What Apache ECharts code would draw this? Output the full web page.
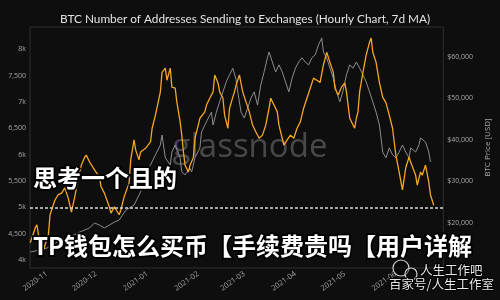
<!DOCTYPE html>
<html>
<head>
<meta charset="utf-8">
<script src="https://cdn.jsdelivr.net/npm/echarts@6/dist/echarts.min.js"></script>
<style>
html,body{margin:0;padding:0;background:#0e0e0e;}
#chart{width:500px;height:300px;}
</style>
</head>
<body>
<div id="chart"></div>
<script>
// ---- data ----
const titleText = 'BTC Number of Addresses Sending to Exchanges (Hourly Chart, 7d MA)';

const addrDates = ['2020-10-22','2020-10-25','2020-10-26','2020-10-28','2020-10-30','2020-11-02','2020-11-03','2020-11-06','2020-11-08','2020-11-10',
'2020-11-12','2020-11-14','2020-11-16','2020-11-18','2020-11-20','2020-11-22','2020-11-24','2020-11-25','2020-11-27','2020-11-30',
'2020-12-03','2020-12-04','2020-12-06','2020-12-09','2020-12-10','2020-12-12','2020-12-15','2020-12-16','2020-12-18','2020-12-21',
'2020-12-22','2020-12-24','2020-12-25','2020-12-27','2020-12-28','2020-12-31','2021-01-03','2021-01-04','2021-01-06','2021-01-09',
'2021-01-10','2021-01-12','2021-01-13','2021-01-15','2021-01-16','2021-01-18','2021-01-19','2021-01-21','2021-01-22','2021-01-23',
'2021-01-24','2021-01-26','2021-01-27','2021-01-29','2021-01-30','2021-02-01','2021-02-02','2021-02-05','2021-02-06','2021-02-08',
'2021-02-10','2021-02-11','2021-02-13','2021-02-14','2021-02-16','2021-02-17','2021-02-19','2021-02-20','2021-02-22','2021-02-23',
'2021-02-24','2021-02-26','2021-02-28','2021-03-02','2021-03-04','2021-03-06','2021-03-08','2021-03-10','2021-03-12','2021-03-14',
'2021-03-16','2021-03-17','2021-03-19','2021-03-21','2021-03-22','2021-03-24','2021-03-25','2021-03-27','2021-03-29','2021-03-31',
'2021-04-02','2021-04-04','2021-04-06','2021-04-08','2021-04-10','2021-04-12','2021-04-14','2021-04-16','2021-04-18','2021-04-20',
'2021-04-22','2021-04-24','2021-04-25','2021-04-27','2021-04-29','2021-05-01','2021-05-02','2021-05-03','2021-05-04','2021-05-06',
'2021-05-07','2021-05-08','2021-05-09','2021-05-10','2021-05-12','2021-05-14','2021-05-16','2021-05-17','2021-05-18','2021-05-20',
'2021-05-22','2021-05-24','2021-05-26','2021-05-28','2021-05-30','2021-05-31','2021-06-01','2021-06-03','2021-06-05','2021-06-07',
'2021-06-09','2021-06-10','2021-06-13','2021-06-14','2021-06-16','2021-06-17','2021-06-19','2021-06-21','2021-06-22','2021-06-24'];

const addrValues = [4330,4610,4670,4290,4190,4480,4860,5140,5240,5270,
5370,5180,4910,5200,5520,5800,5950,5990,5860,5710,
5580,5390,5270,5010,4890,5010,4860,4950,5200,5460,
5900,6280,6090,5900,6050,6120,6240,6500,6750,7190,
7560,7640,7410,7640,7280,7260,7000,6620,6370,6050,
5800,5670,5800,5940,6310,6560,6690,6810,6940,7070,
7190,7510,7360,7190,7070,6750,6500,6880,7090,7190,
7320,7510,7190,7000,6810,6560,6430,6310,6370,6560,
6880,7070,6940,6810,6560,6310,6180,6280,6370,6310,
6500,6620,6880,7070,7260,7450,7410,7370,7700,7940,
7750,7560,7260,7130,7280,7360,7190,6940,6690,6560,
6500,6690,6810,7190,7560,7890,8130,8210,7940,7750,
7370,7090,6980,6750,6500,6240,5990,5670,5330,5750,
5950,5860,5610,5420,5670,5610,5800,5480,5240,5040];

const priceDates = ['2020-10-22','2020-10-28','2020-11-03','2020-11-09','2020-11-15','2020-11-21','2020-11-27','2020-11-30','2020-12-03','2020-12-06',
'2020-12-09','2020-12-12','2020-12-15','2020-12-19','2020-12-24','2020-12-25','2020-12-28','2020-12-30','2020-12-31','2021-01-03',
'2021-01-06','2021-01-09','2021-01-10','2021-01-12','2021-01-15','2021-01-16','2021-01-18','2021-01-21','2021-01-22','2021-01-24',
'2021-01-27','2021-01-28','2021-01-30','2021-02-02','2021-02-03','2021-02-05','2021-02-08','2021-02-09','2021-02-10','2021-02-12',
'2021-02-14','2021-02-16','2021-02-18','2021-02-20','2021-02-22','2021-02-24','2021-02-25','2021-02-27','2021-03-01','2021-03-03',
'2021-03-05','2021-03-07','2021-03-09','2021-03-11','2021-03-13','2021-03-15','2021-03-16','2021-03-18','2021-03-20','2021-03-22',
'2021-03-24','2021-03-26','2021-03-28','2021-03-30','2021-04-01','2021-04-03','2021-04-05','2021-04-07','2021-04-09','2021-04-11',
'2021-04-13','2021-04-15','2021-04-17','2021-04-18','2021-04-20','2021-04-22','2021-04-24','2021-04-26','2021-04-28','2021-04-30',
'2021-05-02','2021-05-04','2021-05-06','2021-05-08','2021-05-10','2021-05-12','2021-05-14','2021-05-16','2021-05-18','2021-05-20',
'2021-05-22','2021-05-23','2021-05-24','2021-05-26','2021-05-28','2021-05-30','2021-06-01','2021-06-03','2021-06-05','2021-06-07',
'2021-06-09','2021-06-10','2021-06-13','2021-06-15','2021-06-16','2021-06-19','2021-06-21','2021-06-22'];

const priceValues = [13000,13500,14200,15900,16600,17800,18800,20000,19500,18800,
19500,20200,20700,23100,24300,25100,27500,29900,32300,34000,
36400,38800,41200,35700,34000,37100,38800,35700,32300,31600,
33200,32300,35700,38100,41900,43600,46000,46700,43600,46700,
49200,51600,54000,55700,57300,54500,51600,46700,45300,47700,
50100,51600,48400,53300,56400,59800,61200,58800,56400,58100,
56400,54000,51600,54900,57300,58800,59800,58800,58100,59800,
60500,62900,64600,61200,59800,57300,54900,51600,49200,52000,
55700,58100,57300,58800,57300,55700,54000,51600,49200,46700,
43600,40500,37100,35700,38100,36400,35700,37100,38800,37100,
35700,38100,37100,38800,40500,39500,37100,34700];

const leftTickValues = [4000,4500,5000,5500,6000,6500,7000,7500,8000];
const leftTickLabels = ['4k','4,500','5k','5,500','6k','6,500','7k','7,500','8k'];
const rightTickValues = [20000,30000,40000,50000,60000];
const rightTickLabels = ['$20,000','$30,000','$40,000','$50,000','$60,000'];
const monthTicks = ['2020-11-01','2020-12-01','2021-01-01','2021-02-01','2021-03-01','2021-04-01','2021-05-01','2021-06-01'];
const monthLabels = ['2020-11','2020-12','2021-01','2021-02','2021-03','2021-04','2021-05','2021-06'];
const refLineValue = 5000;
const watermark = 'glassnode';
const overlayLine1 = '思考一个且的';
const overlayLine2 = 'TP钱包怎么买币【手续费贵吗【用户详解';
const brandLine1 = '人生工作吧';
const brandLine2 = '百家号/人生工作室';
const rightAxisName = 'BTC Price [USD]';

// ---- build ----
function ts(s){ const p=s.split('-').map(Number); return Date.UTC(p[0],p[1]-1,p[2]); }
const addrData = addrDates.map((d,i)=>[ts(d), addrValues[i]]);
const priceData = priceDates.map((d,i)=>[ts(d), priceValues[i]]);
const monthTickTs = monthTicks.map(ts);

const chart = echarts.init(document.getElementById('chart'), null, {renderer:'canvas'});
const FONT = 'Open Sans';
const option = {
  backgroundColor: '#0e0e0e',
  animation: false,
  title: {
    text: titleText, left: 55, top: 8,
    textStyle: {color:'#e2e2e2', fontSize:11.8, fontWeight:'normal', fontFamily:'Lato'}
  },
  grid: {left:30, right:48, top:27, bottom:32, show:true, borderColor:'#2e2e2e', borderWidth:1, backgroundColor:'transparent'},
  xAxis: {
    type:'value',
    min: Date.UTC(2020,9,21,20),
    max: Date.UTC(2021,5,29,19),
    axisLine:{show:false}, axisTick:{show:false}, splitLine:{show:false},
    axisLabel:{
      customValues: monthTickTs,
      rotate:35, margin:5, color:'#a8a8a8', fontSize:7.5, fontFamily:FONT,
      formatter: function(v){ const i=monthTickTs.indexOf(v); return i>=0?monthLabels[i]:''; }
    }
  },
  yAxis: [
    {
      type:'value', min:3850, max:8420, position:'left',
      axisLine:{show:false}, axisTick:{show:false}, splitLine:{show:false},
      axisLabel:{
        customValues: leftTickValues, margin:4, color:'#a8a8a8', fontSize:7, fontFamily:FONT,
        formatter: function(v){ const i=leftTickValues.indexOf(v); return i>=0?leftTickLabels[i]:''; }
      }
    },
    {
      type:'value', min:9150, max:67230, position:'right',
      name: rightAxisName, nameLocation:'middle', nameGap:33, nameRotate:90,
      nameTextStyle:{color:'#a8a8a8', fontSize:8, fontFamily:FONT},
      axisLine:{show:false}, axisTick:{show:false}, splitLine:{show:false},
      axisLabel:{
        customValues: rightTickValues, margin:4, color:'#a8a8a8', fontSize:7, fontFamily:FONT,
        formatter: function(v){ const i=rightTickValues.indexOf(v); return i>=0?rightTickLabels[i]:''; }
      }
    }
  ],
  series: [
    {
      name:'Price', type:'line', yAxisIndex:1, data:priceData, showSymbol:false, symbol:'none',
      lineStyle:{color:'#8c8c8c', width:1}, z:3
    },
    {
      name:'Addresses', type:'line', yAxisIndex:0, data:addrData, showSymbol:false, symbol:'none',
      lineStyle:{color:'#f5a623', width:1.3}, z:4,
      markLine:{
        silent:true, symbol:'none', label:{show:false},
        lineStyle:{color:'#d8d8d8', type:[3,2], width:1.5},
        data:[{yAxis: refLineValue}], z:6
      }
    }
  ],
  graphic: [
    {type:'text', z:1, left:'center', top:131, style:{text:watermark, fill:'rgba(120,120,120,0.55)', font:'normal 33px "Open Sans"'}},
    {type:'text', z:100, x:33, y:178, style:{text:overlayLine1, fill:'#ffffff', stroke:'#000', lineWidth:3.5, font:'bold 24px "Noto Sans CJK SC"', textVerticalAlign:'middle', textAlign:'left'}},
    {type:'text', z:100, x:33, y:246, style:{text:overlayLine2, fill:'#ffffff', stroke:'#000', lineWidth:3.5, font:'bold 24px "Noto Sans CJK SC"', textVerticalAlign:'middle', textAlign:'left'}},
    {type:'circle', z:100, shape:{cx:401, cy:268, r:8}, style:{fill:'rgba(0,0,0,0.4)', stroke:'#cfcfcf', lineWidth:1.2}},
    {type:'circle', z:100, shape:{cx:411, cy:274, r:6}, style:{fill:'rgba(0,0,0,0.4)', stroke:'#cfcfcf', lineWidth:1.2}},
    {type:'text', z:101, x:420, y:270, style:{text:brandLine1, fill:'#e8e8e8', stroke:'#000', lineWidth:2, font:'normal 12.5px "Noto Sans CJK SC"', textVerticalAlign:'middle', textAlign:'left'}},
    {type:'text', z:101, x:389, y:284, style:{text:brandLine2, fill:'#e8e8e8', stroke:'#000', lineWidth:2, font:'normal 12.5px "Noto Sans CJK SC"', textVerticalAlign:'middle', textAlign:'left'}}
  ]
};
chart.setOption(option);
</script>
</body>
</html>
